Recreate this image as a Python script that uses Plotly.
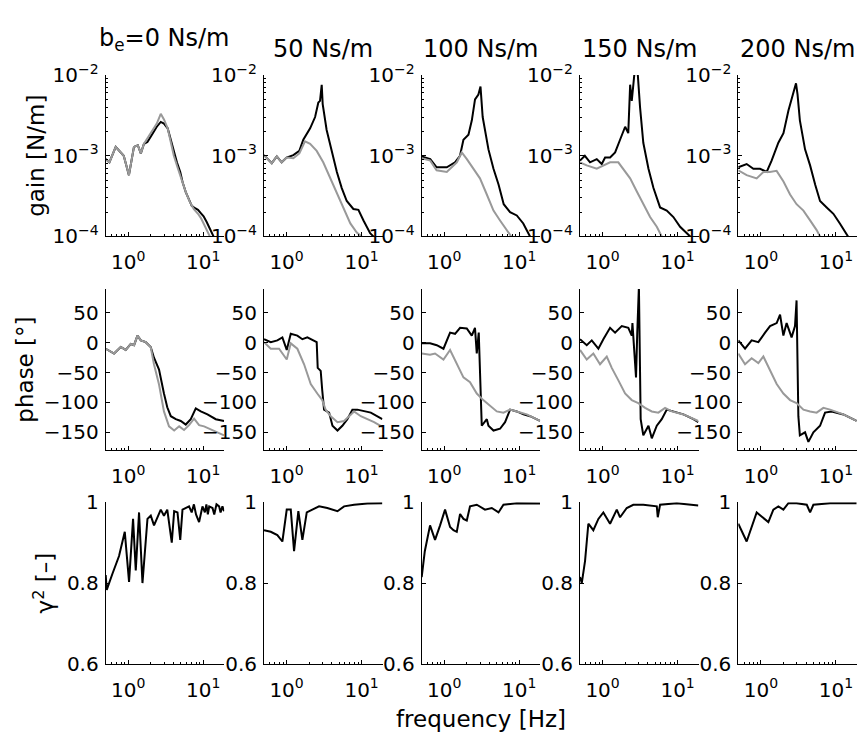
import math
import plotly.graph_objects as go

# ---------------- data ----------------
damping_titles = ["b<sub>e</sub>=0 Ns/m", "50 Ns/m", "100 Ns/m", "150 Ns/m", "200 Ns/m"]

# ---- gain [N/m] : black (measured) and gray (model/other) ----
g0_bk_f = [0.50, 0.56, 0.68, 0.87, 1.02, 1.19, 1.34, 1.47, 1.62, 1.80, 2.0, 2.4, 2.71, 2.99, 3.35, 3.69, 4.05, 4.45, 4.93, 5.3, 5.84, 6.46, 7.02, 7.77, 8.5, 9.26, 10.1, 11.1, 12.2, 13.4, 14.7]
g0_bk_v = [9.1e-4, 8.3e-4, 1.29e-3, 1.0e-3, 5.75e-4, 1.29e-3, 1.35e-3, 1.07e-3, 1.41e-3, 1.48e-3, 1.74e-3, 2.29e-3, 2.63e-3, 2.51e-3, 2.19e-3, 1.58e-3, 1.12e-3, 8.3e-4, 6.3e-4, 4.7e-4, 3.55e-4, 2.82e-4, 2.4e-4, 2.24e-4, 2.14e-4, 1.95e-4, 1.78e-4, 1.51e-4, 1.26e-4, 1.05e-4, 8.7e-5]
g0_gy_f = [0.50, 0.56, 0.68, 0.87, 1.02, 1.19, 1.34, 1.47, 1.62, 2.0, 2.4, 2.71, 2.99, 3.35, 3.69, 4.05, 4.6, 5.15, 5.84, 6.6, 7.45, 8.5, 9.26, 10.1, 11.1, 12.2, 13.8]
g0_gy_v = [9.1e-4, 8.3e-4, 1.29e-3, 1.0e-3, 5.75e-4, 1.29e-3, 1.35e-3, 1.07e-3, 1.41e-3, 1.91e-3, 2.51e-3, 3.31e-3, 2.82e-3, 2.19e-3, 1.41e-3, 1.0e-3, 6.9e-4, 5.0e-4, 3.55e-4, 2.7e-4, 2.19e-4, 1.91e-4, 1.7e-4, 1.45e-4, 1.2e-4, 1.02e-4, 7.9e-5]

g1_bk_f = [0.50, 0.635, 0.74, 0.86, 1.0, 1.23, 1.48, 1.67, 2.06, 2.4, 2.65, 2.79, 2.94, 3.03, 3.42, 4.0, 4.68, 5.44, 6.34, 7.77, 9.07, 10.6, 13.0, 14.4, 16.0]
g1_bk_v = [1.02e-3, 8.1e-4, 9.8e-4, 8.3e-4, 9.5e-4, 1.02e-3, 1.15e-3, 1.58e-3, 2.19e-3, 3.02e-3, 4.57e-3, 4.79e-3, 7.59e-3, 4.37e-3, 2.09e-3, 1.1e-3, 6.3e-4, 3.98e-4, 2.75e-4, 2.19e-4, 2.14e-4, 1.58e-4, 1.1e-4, 1.0e-4, 7.9e-5]
g1_gy_f = [0.50, 0.635, 0.74, 0.86, 1.0, 1.23, 1.48, 1.76, 2.06, 2.52, 3.08, 3.81, 4.68, 5.72, 7.08, 8.63, 10.0, 11.0]
g1_gy_v = [1.02e-3, 8.1e-4, 9.8e-4, 8.3e-4, 9.5e-4, 9.3e-4, 1.07e-3, 1.51e-3, 1.41e-3, 1.15e-3, 8.3e-4, 5.25e-4, 3.47e-4, 2.29e-4, 1.45e-4, 1.12e-4, 1.0e-4, 8.5e-5]

g2_bk_f = [0.50, 0.65, 0.79, 1.08, 1.39, 1.62, 1.80, 2.10, 2.33, 2.57, 2.85, 3.04, 3.25, 3.88, 4.53, 5.3, 6.2, 7.54, 9.26, 11.3, 13.9, 16.0]
g2_bk_v = [9.8e-4, 9.1e-4, 7.2e-4, 7.2e-4, 8.3e-4, 1.0e-3, 1.58e-3, 1.82e-3, 2.75e-3, 5.0e-3, 5.75e-3, 7.2e-3, 3.02e-3, 1.2e-3, 6.9e-4, 4.37e-4, 2.51e-4, 2.0e-4, 1.82e-4, 1.45e-4, 1.0e-4, 7.1e-5]
g2_gy_f = [0.50, 0.65, 0.79, 1.08, 1.47, 1.71, 2.0, 2.45, 2.99, 3.69, 4.53, 5.54, 6.81, 7.94, 9.3]
g2_gy_v = [9.3e-4, 8.7e-4, 6.6e-4, 6.3e-4, 8.3e-4, 1.1e-3, 9.1e-4, 6.9e-4, 5.25e-4, 3.31e-4, 2.09e-4, 1.58e-4, 1.2e-4, 1.0e-4, 7.9e-5]

g3_bk_f = [0.50, 0.58, 0.68, 0.836, 0.975, 1.08, 1.26, 1.47, 1.71, 2.0, 2.2, 2.33, 2.45, 2.71, 2.9, 3.16, 3.49, 4.09, 4.77, 5.84, 7.17, 8.79, 10.8, 14.7, 17.0]
g3_bk_v = [8.7e-4, 1.0e-3, 8.3e-4, 9.1e-4, 7.9e-4, 9.5e-4, 9.5e-4, 1.1e-3, 1.58e-3, 2.29e-3, 1.91e-3, 7.6e-3, 4.8e-3, 1.26e-2, 1.26e-2, 3.98e-3, 1.45e-3, 6.9e-4, 3.98e-4, 2.29e-4, 2.09e-4, 1.74e-4, 1.32e-4, 1.0e-4, 7.9e-5]
g3_gy_f = [0.50, 0.615, 0.836, 1.02, 1.26, 1.62, 1.89, 2.33, 2.85, 3.49, 4.3, 5.28, 6.15, 7.5]
g3_gy_v = [8.3e-4, 7.6e-4, 6.9e-4, 7.6e-4, 8.3e-4, 8.3e-4, 6.9e-4, 5.25e-4, 3.63e-4, 2.51e-4, 1.74e-4, 1.32e-4, 1.0e-4, 7.6e-5]

g4_bk_f = [0.50, 0.646, 0.794, 0.975, 1.195, 1.39, 1.71, 2.0, 2.33, 2.71, 2.94, 3.08, 3.31, 3.88, 4.53, 5.3, 6.15, 7.54, 9.26, 11.3, 14.7, 17.0]
g4_bk_v = [7.2e-4, 7.9e-4, 6.9e-4, 6.9e-4, 6.3e-4, 8.7e-4, 1.45e-3, 1.91e-3, 3.63e-3, 6.3e-3, 7.9e-3, 5.75e-3, 2.75e-3, 1.2e-3, 7.6e-4, 4.37e-4, 2.75e-4, 2.29e-4, 1.91e-4, 1.45e-4, 1.0e-4, 7.9e-5]
g4_gy_f = [0.50, 0.646, 0.879, 1.08, 1.31, 1.62, 2.0, 2.45, 2.99, 3.69, 4.53, 5.54, 6.15, 7.5]
g4_gy_v = [6.6e-4, 5.75e-4, 5.25e-4, 6.3e-4, 6.3e-4, 6.5e-4, 4.8e-4, 3.31e-4, 2.51e-4, 2.09e-4, 1.58e-4, 1.2e-4, 1.0e-4, 7.6e-5]

# ---- phase [deg] ----
p0_bk_f = [0.50, 0.646, 0.794, 0.925, 1.08, 1.195, 1.325, 1.47, 1.71, 1.99, 2.2, 2.57, 2.99, 3.31, 3.69, 4.3, 5.01, 5.84, 6.81, 7.94, 9.26, 11.37, 14.67, 18.9]
p0_bk_v = [-10, -18, -7, -12, -2, -4, 12, 4, 1, -7, -25, -45, -85, -108, -123, -128, -131, -137, -128, -110, -115, -120, -128, -131]
p0_gy_f = [0.50, 0.646, 0.794, 0.925, 1.08, 1.195, 1.325, 1.47, 1.71, 1.99, 2.2, 2.57, 2.99, 3.49, 4.09, 4.77, 5.54, 6.46, 7.54, 8.79, 10.25, 12.58, 15.5, 18.9]
p0_gy_v = [-10, -18, -7, -12, -2, -4, 12, 4, 1, -7, -36, -70, -115, -140, -147, -140, -146, -138, -127, -138, -140, -145, -150, -155]

p1_bk_f = [0.50, 0.615, 0.753, 0.879, 1.005, 1.137, 1.392, 1.624, 1.893, 2.204, 2.52, 2.6, 2.85, 2.99, 3.16, 3.69, 4.09, 4.77, 5.54, 6.46, 7.54, 8.79, 10.79, 13.27, 18.9]
p1_bk_v = [6, 1, 4, 9, -12, 15, 12, 6, 9, 4, 1, -42, -47, -80, -112, -117, -139, -147, -139, -128, -112, -112, -115, -117, -128]
p1_gy_f = [0.50, 0.615, 0.794, 1.005, 1.137, 1.392, 1.711, 2.1, 2.567, 2.99, 3.31, 3.88, 4.77, 5.84, 6.81, 7.94, 9.75, 11.95, 14.67, 18.9]
p1_gy_v = [1, -10, -10, -28, -1, -10, -36, -69, -85, -96, -112, -123, -133, -131, -123, -115, -123, -128, -133, -141]

p2_bk_f = [0.50, 0.646, 0.794, 0.975, 1.195, 1.392, 1.624, 1.995, 2.326, 2.567, 2.711, 2.88, 3.16, 3.69, 3.88, 4.53, 5.54, 6.46, 7.54, 9.26, 11.37, 13.94, 18.9]
p2_bk_v = [-1, -1, -4, -10, 17, 15, 25, 24, 12, 25, -18, 17, -139, -128, -139, -147, -144, -133, -112, -115, -120, -123, -131]
p2_gy_f = [0.50, 0.646, 0.753, 0.975, 1.195, 1.467, 1.80, 2.204, 2.711, 3.31, 4.09, 5.01, 6.15, 7.54, 9.26, 12.58, 18.9]
p2_gy_v = [-18, -20, -18, -28, -12, -36, -58, -66, -85, -96, -106, -115, -117, -112, -115, -120, -131]

p3_bk_f = [0.50, 0.615, 0.717, 0.879, 1.024, 1.258, 1.467, 1.802, 2.204, 2.448, 2.5, 2.6, 2.79, 2.9, 3.05, 3.22, 3.49, 4.09, 4.53, 5.28, 6.15, 7.17, 8.79, 11.95, 16.25, 18.9]
p3_bk_v = [6, -4, 4, -10, 6, 25, 17, 28, 25, 12, 33, 5, -58, 17, 95, -128, -155, -139, -160, -139, -128, -112, -115, -120, -128, -133]
p3_gy_f = [0.50, 0.615, 0.753, 0.925, 1.137, 1.325, 1.624, 1.995, 2.448, 2.99, 3.69, 4.53, 5.54, 6.81, 8.37, 11.95, 18.9]
p3_gy_v = [-12, -28, -18, -36, -23, -42, -63, -85, -96, -101, -109, -115, -117, -109, -115, -120, -131]

p4_bk_f = [0.50, 0.615, 0.753, 0.925, 1.137, 1.325, 1.624, 1.802, 1.995, 2.204, 2.567, 2.85, 2.99, 3.16, 3.31, 3.88, 4.3, 5.01, 6.15, 7.17, 8.79, 12.58, 18.9]
p4_bk_v = [4, -10, 4, 1, 17, 28, 33, 47, 12, 33, 9, 28, 71, -123, -155, -150, -166, -150, -139, -117, -115, -120, -131]
p4_gy_f = [0.50, 0.615, 0.753, 0.925, 1.079, 1.325, 1.624, 1.995, 2.448, 2.99, 3.69, 4.53, 5.54, 6.81, 8.37, 12.58, 18.9]
p4_gy_v = [-18, -36, -26, -34, -23, -47, -69, -85, -96, -101, -112, -115, -117, -109, -112, -120, -131]

# ---- coherence gamma^2 [-] ----
c0_f = [0.50, 0.516, 0.615, 0.753, 0.898, 1.024, 1.158, 1.258, 1.392, 1.546, 1.802, 1.995, 2.204, 2.448, 2.711, 2.99, 3.31, 3.8, 4.09, 4.53, 4.93, 5.28, 6.46, 7.0, 7.5, 8.0, 8.79, 9.75, 10.5, 11.0, 11.5, 12.0, 13.27, 14.0, 15.0, 16.25, 17.0, 18.0, 18.9]
c0_v = [0.82, 0.783, 0.823, 0.867, 0.927, 0.803, 0.959, 0.831, 0.975, 0.80, 0.959, 0.967, 0.943, 0.963, 0.982, 0.967, 0.982, 0.90, 0.978, 0.975, 0.907, 0.982, 0.99, 0.975, 0.995, 0.97, 0.951, 0.99, 0.975, 0.995, 0.97, 0.99, 0.986, 0.97, 0.995, 0.99, 0.975, 0.99, 0.978]
c1_f = [0.50, 0.615, 0.753, 0.879, 1.005, 1.137, 1.258, 1.435, 1.624, 1.858, 2.204, 2.711, 3.49, 4.77, 5.84, 7.94, 11.95, 18.9]
c1_v = [0.931, 0.927, 0.919, 0.903, 0.982, 0.982, 0.879, 0.978, 0.907, 0.975, 0.982, 0.99, 0.986, 0.978, 0.99, 0.994, 0.997, 0.998]
c2_f = [0.50, 0.55, 0.646, 0.753, 0.879, 1.024, 1.195, 1.325, 1.467, 1.624, 1.802, 1.995, 2.204, 2.711, 3.49, 4.3, 5.28, 6.15, 9.26, 18.9]
c2_v = [0.815, 0.879, 0.943, 0.907, 0.943, 0.982, 0.939, 0.931, 0.927, 0.971, 0.959, 0.955, 0.99, 0.994, 0.982, 0.986, 0.975, 0.994, 0.998, 0.997]
c3_f = [0.50, 0.528, 0.584, 0.646, 0.753, 0.879, 1.024, 1.258, 1.546, 1.711, 2.1, 2.567, 3.49, 5.28, 5.44, 5.84, 9.75, 18.9]
c3_v = [0.815, 0.80, 0.855, 0.947, 0.931, 0.959, 0.975, 0.947, 0.982, 0.963, 0.986, 0.994, 0.994, 0.99, 0.963, 0.994, 0.998, 0.992]
c4_f = [0.50, 0.646, 0.879, 1.258, 1.467, 1.711, 1.995, 2.326, 2.99, 4.09, 4.53, 5.01, 8.37, 18.9]
c4_v = [0.947, 0.903, 0.975, 0.951, 0.982, 0.99, 0.982, 0.998, 0.998, 0.994, 0.975, 0.994, 0.998, 0.998]

gain_black = [(g0_bk_f, g0_bk_v), (g1_bk_f, g1_bk_v), (g2_bk_f, g2_bk_v), (g3_bk_f, g3_bk_v), (g4_bk_f, g4_bk_v)]
gain_gray = [(g0_gy_f, g0_gy_v), (g1_gy_f, g1_gy_v), (g2_gy_f, g2_gy_v), (g3_gy_f, g3_gy_v), (g4_gy_f, g4_gy_v)]
phase_black = [(p0_bk_f, p0_bk_v), (p1_bk_f, p1_bk_v), (p2_bk_f, p2_bk_v), (p3_bk_f, p3_bk_v), (p4_bk_f, p4_bk_v)]
phase_gray = [(p0_gy_f, p0_gy_v), (p1_gy_f, p1_gy_v), (p2_gy_f, p2_gy_v), (p3_gy_f, p3_gy_v), (p4_gy_f, p4_gy_v)]
coh = [(c0_f, c0_v), (c1_f, c1_v), (c2_f, c2_v), (c3_f, c3_v), (c4_f, c4_v)]

x_tickvals = [1, 10]
x_ticktext = ["10<sup>0</sup>", "10<sup>1</sup>"]
gain_tickvals = [1e-4, 1e-3, 1e-2]
gain_ticktext = ["10<sup>\u22124</sup>", "10<sup>\u22123</sup>", "10<sup>\u22122</sup>"]
phase_tickvals = [-150, -100, -50, 0, 50]
phase_ticktext = ["\u2212150", "\u2212100", "\u221250", "0", "50"]
coh_tickvals = [0.6, 0.8, 1.0]
coh_ticktext = ["0.6", "0.8", "1"]

# ---------------- layout geometry ----------------
W, H = 860, 745
FONT = "DejaVu Sans, Verdana, sans-serif"
BLACK = "#000000"
GRAY = "#999999"

col_left = [105.7, 264.0, 421.7, 580.0, 738.3]
col_w = 118.5
row_top = [63.3, 285.0, 506.0]
row_bot = [230.5, 452.0, 673.3]

def xp(px):
    return px / W

def yp(py):
    return 1 - py / H

minor_x = [0.6, 0.7, 0.8, 0.9, 2, 3, 4, 5, 6, 7, 8, 9]
minor_gain = [k * 1e-4 for k in range(2, 10)] + [k * 1e-3 for k in range(2, 10)]

fig = go.Figure()
layout = {}

def add_line(n, f, v, color):
    sfx = "" if n == 1 else str(n)
    fig.add_trace(go.Scatter(x=f, y=v, mode="lines", line=dict(color=color, width=2),
                             xaxis="x" + sfx, yaxis="y" + sfx, showlegend=False, hoverinfo="skip"))

for r in range(3):
    for c in range(5):
        n = r * 5 + c + 1
        sfx = "" if n == 1 else str(n)
        xa = dict(domain=[xp(col_left[c]), xp(col_left[c] + col_w)], anchor="y" + sfx,
                  type="log", range=[math.log10(0.5), math.log10(19)],
                  tickvals=x_tickvals, ticktext=x_ticktext,
                  ticks="inside", ticklen=4, tickcolor=BLACK, ticklabelstandoff=8,
                  minor=dict(tickvals=minor_x, ticks="inside", ticklen=2, tickcolor=BLACK),
                  showline=True, linecolor=BLACK, linewidth=1, mirror=False,
                  showgrid=False, zeroline=False,
                  tickfont=dict(family=FONT, size=20, color=BLACK))
        ya = dict(domain=[yp(row_bot[r]), yp(row_top[r])], anchor="x" + sfx,
                  ticks="inside", ticklen=4, tickcolor=BLACK, ticklabelstandoff=2,
                  showline=True, linecolor=BLACK, linewidth=1, mirror=False,
                  showgrid=False, zeroline=False,
                  tickfont=dict(family=FONT, size=20, color=BLACK))
        if r == 0:
            ya.update(type="log", range=[-4, -2], tickvals=gain_tickvals, ticktext=gain_ticktext,
                      minor=dict(tickvals=minor_gain, ticks="inside", ticklen=2, tickcolor=BLACK))
            add_line(n, *gain_black[c], BLACK)
            add_line(n, *gain_gray[c], GRAY)
        elif r == 1:
            ya.update(range=[-180, 90], tickvals=phase_tickvals, ticktext=phase_ticktext)
            add_line(n, *phase_black[c], BLACK)
            add_line(n, *phase_gray[c], GRAY)
        else:
            ya.update(range=[0.6, 1.0], tickvals=coh_tickvals, ticktext=coh_ticktext)
            add_line(n, *coh[c], BLACK)
        layout["xaxis" + sfx] = xa
        layout["yaxis" + sfx] = ya

annotations = []
for c in range(5):
    ypos = 26.5 if c == 0 else 36
    annotations.append(dict(text=damping_titles[c], x=xp(col_left[c] + col_w / 2), y=yp(ypos),
                            xref="paper", yref="paper", xanchor="center", yanchor="middle",
                            showarrow=False, font=dict(family=FONT, size=24, color=BLACK)))

ylabels = [("gain [N/m]", 36, 147), ("phase [\u00b0]", 25, 368.5), ("\u03b3<sup>2</sup> [\u2013]", 44, 590)]
for txt, px, py in ylabels:
    annotations.append(dict(text=txt, x=xp(px), y=yp(py), xref="paper", yref="paper",
                            xanchor="center", yanchor="middle", textangle=-90, showarrow=False,
                            font=dict(family=FONT, size=23, color=BLACK)))

annotations.append(dict(text="frequency [Hz]", x=xp(481), y=yp(731), xref="paper", yref="paper",
                        xanchor="center", yanchor="middle", showarrow=False,
                        font=dict(family=FONT, size=23, color=BLACK)))

fig.update_layout(**layout)
fig.update_layout(width=W, height=H, margin=dict(l=0, r=0, t=0, b=0),
                  paper_bgcolor="white", plot_bgcolor="white",
                  annotations=annotations, showlegend=False)

fig.write_html("out.html")
